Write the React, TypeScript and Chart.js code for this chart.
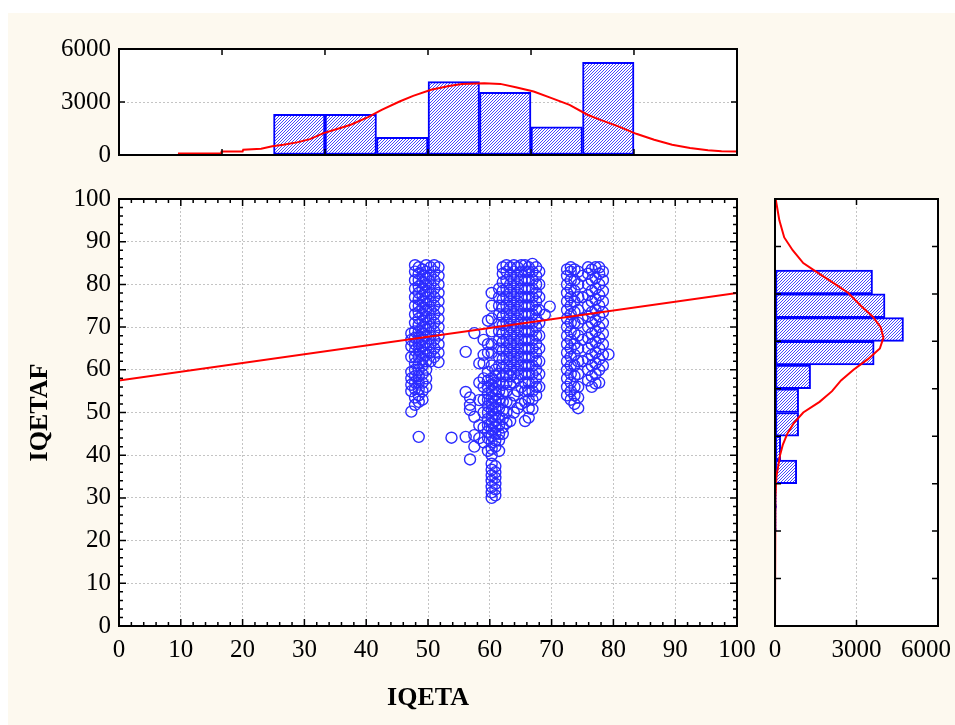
import React, { useEffect, useRef } from 'react';
import { Chart, registerables } from 'chart.js';

Chart.register(...registerables);

const FONT = "'Liberation Serif', 'Times New Roman', serif";
const CREAM = '#fdf9ef';
const BAR_BLUE = '#0000ff';
const PT_BLUE = '#2b2bff';
const RED = '#ff0000';
const GRID = '#c4c4c4';

// ---------- main scatter: tick labels ----------
const mainTickLabels = [0, 10, 20, 30, 40, 50, 60, 70, 80, 90, 100];

// regression line
const fitX = [0, 100];
const fitY = [57.5, 78];

// scatter points, stored as vertical columns (x) with their y values
const scatterColX = [
  47.3, 47.9, 48.5, 49.1, 49.7, 50.4, 51.0, 51.7,
  53.8, 56.1, 56.8, 57.5, 58.3,
  59.0, 59.7, 60.3, 60.9, 61.5, 62.1, 62.7, 63.3, 63.9, 64.5, 65.1, 65.7, 66.3, 66.9, 67.5, 68.0, 68.9, 69.7,
  72.5, 73.1, 73.7, 74.3, 75.0, 75.9, 76.5, 77.1, 77.7, 78.3, 79.2,
];
const scatterColY = [
  [50.2, 55, 56.5, 58, 59.5, 63, 65.5, 67, 68.5],
  [51.8, 53.5, 55.5, 57, 58.5, 60, 61.5, 63, 64.5, 66, 67.5, 69, 71, 73, 75, 77, 79, 81, 83, 84.5],
  [44.3, 52.5, 54, 55.5, 57, 58.5, 60, 61.5, 63, 64.5, 66, 67.5, 69, 70.5, 72, 73.5, 75, 76.5, 78, 79.5, 81, 82.5, 84],
  [53, 55, 57, 59, 61, 62.5, 64, 65.5, 67, 68.5, 70, 71.5, 73, 74.5, 76, 77.5, 79, 80.5, 82, 83.5],
  [56, 58, 60, 62, 63.5, 65, 66.5, 68, 69.5, 71, 72.5, 74, 75.5, 77, 78.5, 80, 81.5, 83, 84.5],
  [62, 64, 66, 68, 70, 72, 74, 76, 78, 80, 82, 84],
  [63, 65, 67, 69, 71, 73, 75, 77, 79, 81, 83, 84.5],
  [61.8, 64, 66, 68, 70, 72, 74, 76, 78, 80, 82, 84],
  [44.1],
  [44.3, 54.8, 64.2],
  [39, 50.6, 51.8, 53.5],
  [42, 44.7, 49, 68.6],
  [44, 47, 52.9, 57, 61.5],
  [43, 46.5, 50, 53, 56, 58, 61.5, 63.5, 67],
  [41, 44, 45.5, 47, 48.5, 50, 51.5, 53, 54.5, 56, 57.5, 59.5, 64, 66, 71.5],
  [30, 31.3, 32.6, 34, 35.3, 36.6, 38, 40, 41.5, 43, 44.5, 46, 47.5, 49, 50.5, 52, 53.5, 55, 56.5, 58, 61, 64, 66, 69, 72, 75, 78],
  [30.6, 32, 33.3, 34.7, 36, 37.4, 42, 43.5, 45, 46.5, 48, 49.5, 51, 52.5, 54, 55.5, 57, 58.5, 60],
  [41, 43.5, 45, 47, 49, 51, 53, 55, 57, 59, 61, 63, 65, 67, 69, 71, 73, 75, 77, 79],
  [45, 46.5, 48.5, 50.5, 52.5, 54.5, 56.5, 58.5, 60.5, 62.5, 64.5, 66.5, 68.5, 70.5, 72.5, 74.5, 76.5, 78.5, 80.5, 82.5, 84],
  [47.5, 50, 52.5, 55, 57, 59, 61, 63, 65, 67, 69, 71, 73, 75, 77, 79, 81, 83, 84.5],
  [48, 52.3, 56.6, 58.5, 60, 62, 64, 66, 68, 70, 72, 74, 76, 78, 80, 82, 84],
  [50, 54, 57, 59, 61, 63, 65, 67, 69, 71, 73, 75, 77, 79, 81, 83, 84.5],
  [51, 55, 58, 60, 62, 64, 66, 68, 70, 72, 74, 76, 78, 80, 82, 84],
  [52, 56, 59, 61, 63, 65, 67, 69, 71, 73, 75, 77, 79, 81, 83, 84.5],
  [48, 52.5, 55, 57, 59, 61, 63, 65, 67, 69, 71, 73, 75, 77, 79, 81, 83, 84.5],
  [48.8, 51, 53, 55, 57, 59, 61, 63, 65, 67, 69, 71, 73, 75, 77, 79, 81, 83, 84],
  [50.8, 53, 55, 57, 59, 61, 63, 65, 67, 69, 71, 73, 75, 77, 79, 81, 83, 84.8],
  [54, 56, 58, 60, 62, 64, 66, 68, 70, 72, 74, 76, 78, 80, 82, 84],
  [56, 59, 62, 65, 68, 71, 74, 77, 80, 83],
  [72.9],
  [74.8],
  [54, 56, 58, 60, 62, 64, 66, 68, 70, 72, 74, 76, 78, 80, 82, 83.5],
  [53, 55, 57, 59, 61, 63, 65, 67, 69, 71, 73, 75, 77, 79, 81, 83, 84],
  [52, 54, 56, 58.5, 61, 63.5, 66, 68.5, 71, 73.5, 76, 78.5, 81, 83.5],
  [51, 53.5, 56, 59, 62, 65, 68, 71, 74, 77, 80, 83],
  [62, 67, 72, 77, 82],
  [57.5, 60, 62.5, 65, 67.5, 70, 72.5, 75, 77.5, 80, 82.5, 84],
  [56, 58.5, 61, 63.5, 66, 68.5, 71, 73.5, 76, 78.5, 81, 83.5],
  [56.8, 59, 61.5, 64, 66.5, 69, 71.5, 74, 76.5, 79, 81.5, 84],
  [57, 60, 62.5, 65, 67.5, 70, 72.5, 75, 77.5, 80, 82.5, 84],
  [61, 63.5, 66, 68.5, 71, 73.5, 76, 78.5, 81, 83],
  [63.6],
];

// ---------- top histogram (IQETA) ----------
const topBinCenters = [29.17, 37.5, 45.83, 54.17, 62.5, 70.83, 79.17];
const topBinCounts = [2300, 2300, 1000, 4150, 3550, 1600, 5250];
const topTickLabels = [0, 3000, 6000];
const topEdgeTicks = [16.67, 33.33, 50, 66.67, 83.33];
const topCurveX = [0, 9.6, 9.7, 16.5, 16.6, 20, 20.1, 23, 24.8, 26.6, 28.8, 30.9, 33.1, 35.3, 37.5, 40.3, 42.5, 45.4, 47.6, 50.5, 53.4, 55.5, 59.1, 61.7, 64.2, 67.1, 70, 72.9, 75.8, 77.9, 80.8, 83.7, 86.6, 89.5, 92.4, 95.3, 97.5, 100];
const topCurveY = [0, 0, 90, 90, 200, 200, 300, 360, 490, 580, 715, 900, 1240, 1470, 1710, 2140, 2560, 3030, 3350, 3690, 3910, 4025, 4060, 4025, 3840, 3590, 3220, 2840, 2280, 1990, 1620, 1200, 865, 580, 395, 265, 207, 200];

// ---------- right histogram (IQETAF) ----------
const rightBinCenters = [25, 30.56, 36.11, 41.67, 47.22, 52.78, 58.33, 63.89, 69.44, 75, 80.56];
const rightBinCounts = [50, 60, 800, 210, 870, 870, 1310, 3650, 4730, 4050, 3590];
const rightTickLabels = [0, 3000, 6000];
const rightEdgeTicks = [11.11, 22.22, 33.33, 44.44, 55.56, 66.67, 77.78, 88.89];
const rightCurveY = [100, 95, 91, 88, 85, 83, 80, 78, 75, 72.5, 70, 67.5, 65, 62.5, 60, 57.5, 55, 52.5, 50, 47.5, 45, 42.5, 40, 37.5, 35, 30, 20, 0];
const rightCurveV = [25, 160, 340, 650, 1040, 1510, 2230, 2700, 3160, 3590, 3890, 3990, 3860, 3420, 2890, 2430, 2100, 1640, 1040, 690, 450, 290, 185, 120, 50, 15, 0, 0];

// crisp 3x3 "/" hatch tile built pixel by pixel
function makeHatch(): any {
  const c = document.createElement('canvas');
  c.width = 3;
  c.height = 3;
  const g = c.getContext('2d')!;
  g.fillStyle = '#ffffff';
  g.fillRect(0, 0, 3, 3);
  g.fillStyle = '#4848ff';
  g.fillRect(2, 0, 1, 1);
  g.fillRect(1, 1, 1, 1);
  g.fillRect(0, 2, 1, 1);
  return g.createPattern(c, 'repeat');
}

type TickDef = { v: number; len: number };

function framePlugin(xTicks: TickDef[], yTicks: TickDef[], extra?: (chart: any) => void) {
  return {
    id: 'frame',
    beforeDraw(chart: any) {
      const a = chart.chartArea;
      const ctx = chart.ctx;
      ctx.save();
      ctx.fillStyle = '#ffffff';
      ctx.fillRect(a.left, a.top, a.right - a.left, a.bottom - a.top);
      ctx.restore();
    },
    afterDatasetsDraw(chart: any) {
      const a = chart.chartArea;
      const ctx = chart.ctx;
      const xs = chart.scales.x;
      const ys = chart.scales.y;
      ctx.save();
      ctx.strokeStyle = '#000';
      ctx.lineWidth = 1.5;
      ctx.beginPath();
      for (const t of xTicks) {
        const px = xs.getPixelForValue(t.v);
        ctx.moveTo(px, a.bottom);
        ctx.lineTo(px, a.bottom - t.len);
        ctx.moveTo(px, a.top);
        ctx.lineTo(px, a.top + t.len);
      }
      for (const t of yTicks) {
        const py = ys.getPixelForValue(t.v);
        ctx.moveTo(a.left, py);
        ctx.lineTo(a.left + t.len, py);
        ctx.moveTo(a.right, py);
        ctx.lineTo(a.right - t.len, py);
      }
      ctx.stroke();
      ctx.lineWidth = 2;
      ctx.strokeRect(a.left, a.top, a.right - a.left, a.bottom - a.top);
      ctx.restore();
      if (extra) extra(chart);
    },
  };
}

const tickFont = { family: FONT, size: 25 };
const titleFont = { family: FONT, size: 26, weight: 'bold' as const };
const plainLabel = (v: any) => String(v);

export default function App() {
  const topRef = useRef<HTMLCanvasElement>(null);
  const mainRef = useRef<HTMLCanvasElement>(null);
  const rightRef = useRef<HTMLCanvasElement>(null);

  useEffect(() => {
    const hatch = makeHatch();
    const charts: Chart[] = [];

    // main minor/major ticks every 2 units
    const mainTicks: TickDef[] = [];
    for (let v = 2; v < 100; v += 2) mainTicks.push({ v, len: v % 10 === 0 ? 7 : 4 });

    const points: { x: number; y: number }[] = [];
    scatterColX.forEach((x, i) => scatterColY[i].forEach((y) => points.push({ x, y })));

    // ---------- main ----------
    charts.push(
      new Chart(mainRef.current!, {
        type: 'scatter',
        data: {
          datasets: [
            {
              type: 'line',
              data: fitX.map((x, i) => ({ x, y: fitY[i] })),
              borderColor: RED,
              borderWidth: 2,
              pointRadius: 0,
              fill: false,
              tension: 0,
            } as any,
            {
              type: 'scatter',
              data: points,
              pointRadius: 5.5,
              borderWidth: 1.4,
              borderColor: PT_BLUE,
              backgroundColor: 'rgba(0,0,0,0)',
            },
          ],
        },
        options: {
          responsive: false,
          animation: false,
          devicePixelRatio: 1,
          events: [],
          layout: { padding: { left: 0, top: 14, right: 31, bottom: 0 } },
          plugins: { legend: { display: false }, tooltip: { enabled: false } },
          scales: {
            x: {
              type: 'linear',
              min: 0,
              max: 100,
              afterBuildTicks: (s: any) => { s.ticks = mainTickLabels.map((v) => ({ value: v })); },
              ticks: { font: tickFont, color: '#000', padding: 9, maxRotation: 0, autoSkip: false, callback: plainLabel },
              grid: { color: GRID, drawTicks: false, lineWidth: 1 },
              border: { display: false, dash: [2, 2] },
              title: { display: true, text: 'IQETA', font: titleFont, color: '#000', padding: { top: 0, bottom: 11 } },
              afterFit: (s: any) => { s.height = 99; s.paddingLeft = 0; s.paddingRight = 0; },
            },
            y: {
              type: 'linear',
              min: 0,
              max: 100,
              afterBuildTicks: (s: any) => { s.ticks = mainTickLabels.map((v) => ({ value: v })); },
              ticks: { font: tickFont, color: '#000', padding: 8, autoSkip: false, callback: plainLabel },
              grid: { color: GRID, drawTicks: false, lineWidth: 1 },
              border: { display: false, dash: [2, 2] },
              title: { display: true, text: 'IQETAF', font: titleFont, color: '#000', padding: { top: 17, bottom: 0 } },
              afterFit: (s: any) => { s.width = 111; s.paddingTop = 0; s.paddingBottom = 0; },
            },
          },
        } as any,
        plugins: [framePlugin(mainTicks, mainTicks)],
      })
    );

    // ---------- top histogram ----------
    charts.push(
      new Chart(topRef.current!, {
        type: 'bar',
        data: {
          datasets: [
            {
              type: 'line',
              data: topCurveX.map((x, i) => ({ x, y: topCurveY[i] })),
              borderColor: RED,
              borderWidth: 2,
              pointRadius: 0,
              fill: false,
              tension: 0,
            } as any,
            {
              type: 'bar',
              data: topBinCenters.map((x, i) => ({ x, y: topBinCounts[i] })),
              backgroundColor: hatch,
              borderColor: BAR_BLUE,
              borderWidth: 2,
              borderSkipped: false,
              barPercentage: 1,
              categoryPercentage: 1,
            },
          ],
        },
        options: {
          responsive: false,
          animation: false,
          devicePixelRatio: 1,
          events: [],
          layout: { padding: { left: 0, top: 19, right: 31, bottom: 15 } },
          plugins: { legend: { display: false }, tooltip: { enabled: false } },
          scales: {
            x: { type: 'linear', min: 0, max: 100, offset: false, display: false, ticks: { stepSize: 20 } },
            y: {
              type: 'linear',
              min: 0,
              max: 6000,
              afterBuildTicks: (s: any) => { s.ticks = topTickLabels.map((v) => ({ value: v })); },
              ticks: { font: tickFont, color: '#000', padding: 8, autoSkip: false, callback: plainLabel },
              grid: { color: GRID, drawTicks: false, lineWidth: 1 },
              border: { display: false, dash: [2, 2] },
              afterFit: (s: any) => { s.width = 111; s.paddingTop = 0; s.paddingBottom = 0; },
            },
          },
        } as any,
        plugins: [framePlugin(topEdgeTicks.map((v) => ({ v, len: 6 })), [{ v: 3000, len: 6 }])],
      })
    );

    // ---------- right histogram ----------
    const drawRightLabels = (chart: any) => {
      const ctx = chart.ctx;
      const xs = chart.scales.x;
      const a = chart.chartArea;
      ctx.save();
      ctx.font = `25px ${FONT}`;
      ctx.fillStyle = '#000';
      ctx.textBaseline = 'middle';
      ctx.textAlign = 'left';
      const maxRight = chart.width - 4;
      for (const v of rightTickLabels) {
        const txt = String(v);
        const w = ctx.measureText(txt).width;
        let left = xs.getPixelForValue(v) - w / 2;
        if (left + w > maxRight) left = maxRight - w;
        ctx.fillText(txt, left, a.bottom + 24);
      }
      ctx.restore();
    };

    charts.push(
      new Chart(rightRef.current!, {
        type: 'bar',
        data: {
          datasets: [
            {
              type: 'line',
              indexAxis: 'y',
              data: rightCurveY.map((y, i) => ({ x: rightCurveV[i], y })),
              borderColor: RED,
              borderWidth: 2,
              pointRadius: 0,
              fill: false,
              tension: 0,
            } as any,
            {
              type: 'bar',
              indexAxis: 'y',
              data: rightBinCenters.map((y, i) => ({ x: rightBinCounts[i], y })),
              backgroundColor: hatch,
              borderColor: BAR_BLUE,
              borderWidth: 2,
              borderSkipped: false,
              barPercentage: 1,
              categoryPercentage: 1,
            } as any,
          ],
        },
        options: {
          indexAxis: 'y',
          responsive: false,
          animation: false,
          devicePixelRatio: 1,
          events: [],
          layout: { padding: { left: 15, top: 14, right: 17, bottom: 0 } },
          plugins: { legend: { display: false }, tooltip: { enabled: false } },
          scales: {
            x: {
              type: 'linear',
              position: 'bottom',
              min: 0,
              max: 6000,
              offset: false,
              afterBuildTicks: (s: any) => { s.ticks = rightTickLabels.map((v) => ({ value: v })); },
              ticks: { display: false },
              grid: { color: GRID, drawTicks: false, lineWidth: 1 },
              border: { display: false, dash: [2, 2] },
              afterFit: (s: any) => { s.height = 99; s.paddingLeft = 0; s.paddingRight = 0; },
            },
            y: { type: 'linear', position: 'left', min: 0, max: 100, offset: false, display: false, ticks: { stepSize: 20 } },
          },
        } as any,
        plugins: [framePlugin([{ v: 3000, len: 6 }], rightEdgeTicks.map((v) => ({ v, len: 6 })), drawRightLabels)],
      })
    );

    return () => charts.forEach((c) => c.destroy());
  }, []);

  return (
    <div style={{ position: 'fixed', left: 8, top: 8, width: 947, height: 717, overflow: 'hidden' }}>
      <div style={{ position: 'absolute', left: 0, top: 5, width: 947, height: 712, background: CREAM }} />
      <canvas ref={topRef} width={760} height={140} style={{ position: 'absolute', left: 0, top: 22 }} />
      <canvas ref={mainRef} width={760} height={540} style={{ position: 'absolute', left: 0, top: 177 }} />
      <canvas ref={rightRef} width={195} height={540} style={{ position: 'absolute', left: 752, top: 177 }} />
    </div>
  );
}
